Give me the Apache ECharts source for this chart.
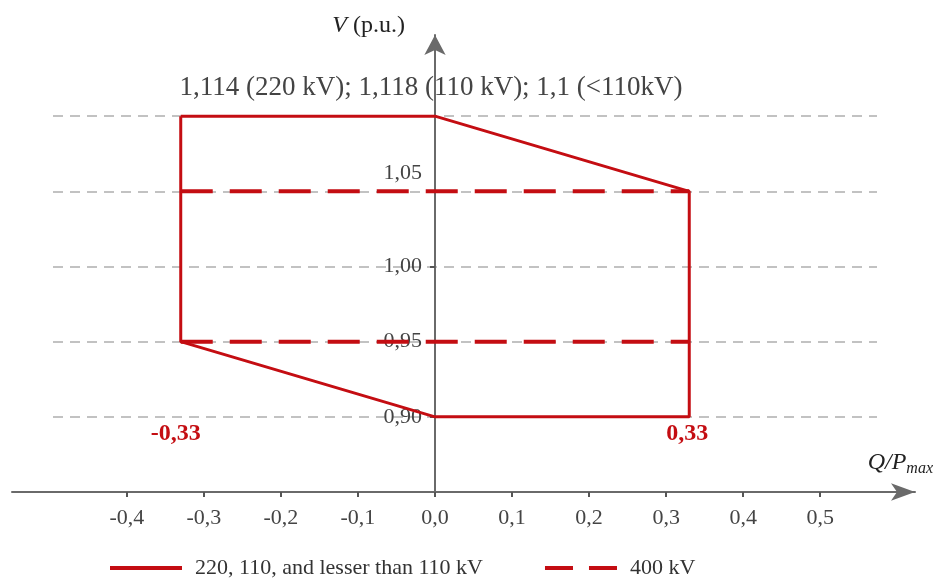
<!DOCTYPE html>
<html>
<head>
<meta charset="utf-8">
<script src="https://cdn.jsdelivr.net/npm/echarts@6/dist/echarts.min.js"></script>
<style>
html,body{margin:0;padding:0;background:#fff;}
#main{width:933px;height:583px;}
</style>
</head>
<body>
<div id="main"></div>
<script>
// U-Q/Pmax diagram data
var solidQ=[-0.33,0,0.33,0.33,0,-0.33,-0.33];
var solidV=[1.1,1.1,1.05,0.9,0.9,0.95,1.1];
var dashQ=[-0.33,0.33];
var dashUpperV=[1.05,1.05];
var dashLowerV=[0.95,0.95];
var xTicks=[-0.4,-0.3,-0.2,-0.1,0,0.1,0.2,0.3,0.4,0.5];
var yTicks=[0.9,0.95,1.0,1.05];
var limitQ=[-0.33,0.33];
var topNote='1,114 (220 kV); 1,118 (110 kV); 1,1 (<110kV)';
var solidName='220, 110, and lesser than 110 kV';
var dashName='400 kV';

var red='#c40d12';
var font='Liberation Serif';

function pairs(xs,ys){
	var out=[];
	for(var i=0;i<xs.length;i++){out.push([xs[i],ys[i]]);}
	return out;
}
function comma(v,d){return v.toFixed(d).replace('.',',');}

var myChart=echarts.init(document.getElementById('main'));
var option={
	animation:false,
	textStyle:{fontFamily:font},
	grid:[
		{left:12,right:18,top:35,bottom:91,outerBoundsMode:'none'},
		// only for the grey guide lines
		{left:53,right:56,top:116,bottom:166,outerBoundsMode:'none'}
	],
	legend:{
		left:110,top:557,padding:0,
		itemWidth:72,itemHeight:4,itemGap:62,
		textStyle:{fontFamily:font,fontSize:22,color:'#333',padding:[0,0,0,8]},
		data:[
			{name:solidName,icon:'path://M0,0H72V4H0Z'},
			{name:dashName,icon:'path://M0,0H28V4H0Z M44,0H72V4H44Z'}
		]
	},
	xAxis:[{
		type:'value',min:-0.549,max:0.623,
		axisLine:{onZero:false,lineStyle:{color:'#6a6a6a',width:2},symbol:['none','arrow'],symbolSize:[13,24]},
		axisTick:{show:true,length:5,customValues:xTicks,lineStyle:{color:'#555',width:2}},
		axisLabel:{customValues:xTicks,margin:15,fontFamily:font,fontSize:22,color:'#444',
			formatter:function(v){return comma(v,1);}},
		splitLine:{show:false},
		name:'{q|Q/P}{s|max}',nameLocation:'end',nameGap:18,
		nameTextStyle:{align:'right',verticalAlign:'bottom',padding:[0,0,16,0],
			rich:{q:{fontFamily:font,fontStyle:'italic',fontSize:24,color:'#222',lineHeight:26},
				s:{fontFamily:font,fontStyle:'italic',fontSize:16,color:'#222',lineHeight:26,padding:[12,0,0,0]}}}
	},{
		type:'value',gridIndex:1,min:-1,max:1,show:false
	}],
	yAxis:[{
		type:'value',min:0.85,max:1.154,
		// put the axis at Q=0 (x=435px) by offset
		offset:-423,
		axisLine:{onZero:false,lineStyle:{color:'#6a6a6a',width:2},symbol:['none','arrow'],symbolSize:[16,20]},
		axisTick:{show:true,length:5,customValues:yTicks,lineStyle:{color:'#555',width:2}},
		axisLabel:{customValues:yTicks,margin:13,fontFamily:font,fontSize:22,color:'#444',
			formatter:function(v){
				var s=comma(v,2);
				return Math.abs(v-1.05)<1e-6?'{up|'+s+'}':s;
			},
			rich:{up:{fontFamily:font,fontSize:22,color:'#444',padding:[0,0,36,0]}}},
		splitLine:{show:false},
		name:'{v|V} (p.u.)',nameLocation:'end',nameGap:9,
		nameTextStyle:{align:'right',verticalAlign:'middle',padding:[0,30,0,0],fontFamily:font,fontSize:24,color:'#222',
			rich:{v:{fontFamily:font,fontStyle:'italic',fontSize:24,color:'#222'}}}
	},{
		type:'value',gridIndex:1,min:0.9,max:1.1,interval:0.05,
		axisLine:{show:false},axisTick:{show:false},axisLabel:{show:false},
		splitLine:{show:true,lineStyle:{color:'#c2c2c2',width:2,type:[10,7]}}
	}],
	series:[{
		name:solidName,type:'line',symbol:'none',z:4,
		data:pairs(solidQ,solidV),
		lineStyle:{color:red,width:3},itemStyle:{color:red},
		markPoint:{
			symbolSize:0,silent:true,
			data:[
				{coord:[0,1.1],label:{show:true,formatter:topNote,offset:[-4,-28],fontFamily:font,fontSize:27,color:'#444'}},
				{coord:[limitQ[0],0.9],label:{show:true,formatter:comma(limitQ[0],2),offset:[-5,17],fontFamily:font,fontSize:24,fontWeight:'bold',color:red}},
				{coord:[limitQ[1],0.9],label:{show:true,formatter:comma(limitQ[1],2),offset:[-2,17],fontFamily:font,fontSize:24,fontWeight:'bold',color:red}}
			]
		}
	},{
		name:dashName,type:'line',symbol:'none',z:3,
		data:pairs(dashQ,dashUpperV),
		lineStyle:{color:red,width:4,type:[32,17]},itemStyle:{color:red}
	},{
		name:dashName,type:'line',symbol:'none',z:3,
		data:pairs(dashQ,dashLowerV),
		lineStyle:{color:red,width:4,type:[32,17]},itemStyle:{color:red}
	}]
};
myChart.setOption(option);
</script>
</body>
</html>
